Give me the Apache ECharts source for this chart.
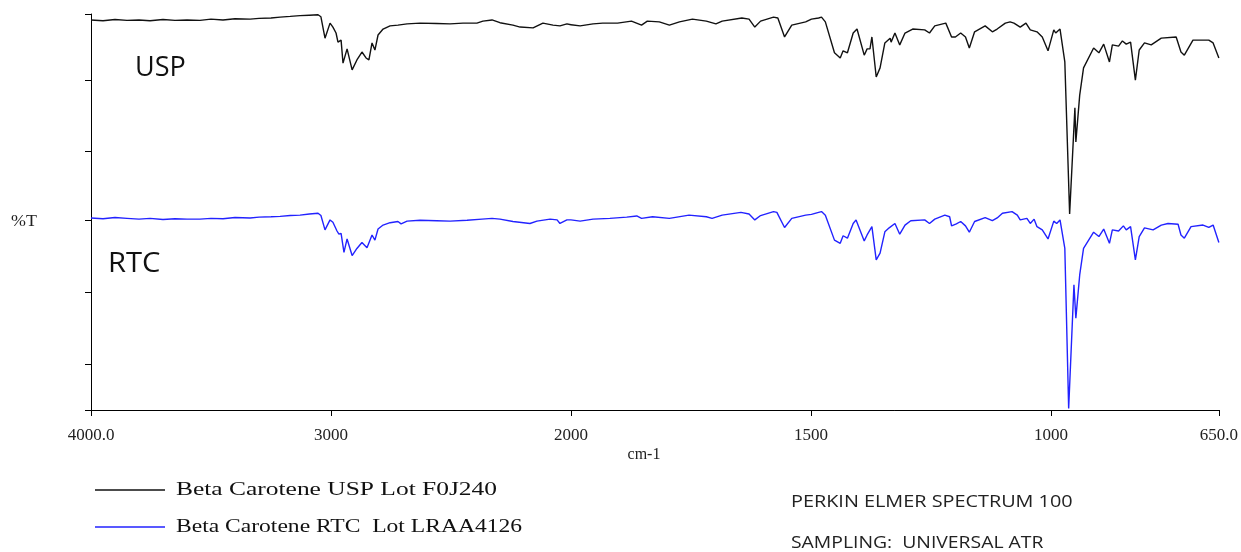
<!DOCTYPE html>
<html>
<head>
<meta charset="utf-8">
<script src="https://cdn.jsdelivr.net/npm/echarts@6/dist/echarts.min.js"></script>
<style>
  html, body { margin: 0; padding: 0; background: #fff; }
  #chart { width: 1241px; height: 552px; }
</style>
</head>
<body>
<div id="chart"></div>
<script>
// wavenumber (cm-1) / %T readings, 4000 -> 650
const uspWave = [4000, 3950, 3900, 3850, 3800, 3754, 3700, 3650, 3600, 3546, 3500, 3450, 3400, 3337, 3300, 3250, 3212, 3170, 3129, 3090,
  3054, 3042, 3025, 3004, 2992, 2979, 2971, 2958, 2950, 2933, 2912, 2892, 2871, 2854, 2842, 2829, 2817, 2804, 2783, 2754,
  2721, 2713, 2683, 2629, 2560, 2504, 2450, 2392, 2367, 2329, 2296, 2242, 2212, 2158, 2117, 2075, 2046, 2017, 2000,
  1981, 1954, 1934, 1903, 1874, 1853, 1841, 1816, 1795, 1774, 1747, 1718, 1698, 1685, 1644, 1629, 1617, 1605, 1578, 1569,
  1555, 1540, 1511, 1499, 1484, 1478, 1470, 1451, 1439, 1433, 1424, 1412, 1404, 1389, 1383, 1377, 1373, 1364, 1356, 1346,
  1335, 1333, 1325, 1315, 1304, 1288, 1263, 1253, 1242, 1219, 1207, 1199, 1188, 1178, 1170, 1159, 1137, 1122, 1112, 1095,
  1085, 1077, 1064, 1052, 1043, 1029, 1018, 1006, 994, 990, 981, 971, 961, 950, 948, 940, 932, 911, 900, 890,
  878, 872, 859, 851, 843, 834, 824, 816, 805, 791, 770, 739, 729, 722, 704, 671, 662, 650]
const uspT = [98.5, 98.3, 98.6, 98.4, 98.5, 98.3, 98.6, 98.4, 98.5, 98.4, 98.7, 98.5, 98.8, 98.7, 98.9, 99.0, 99.2, 99.4, 99.6, 99.7,
  99.8, 99.3, 93.9, 97.7, 96.7, 95.2, 92.9, 93.4, 87.6, 91.2, 85.9, 88.4, 90.4, 88.9, 88.4, 92.7, 90.9, 94.7, 96.2, 97.0,
  97.2, 96.7, 97.5, 97.7, 97.6, 97.5, 97.7, 97.7, 98.2, 98.5, 97.8, 97.2, 96.7, 96.5, 97.7, 97.2, 97.0, 97.5, 97.3,
  97.0, 97.5, 97.7, 97.7, 98.2, 97.2, 98.2, 98.0, 97.2, 98.0, 98.7, 98.2, 97.5, 98.2, 99.0, 98.7, 96.7, 98.2, 99.2, 99.0,
  94.2, 97.2, 98.0, 98.7, 99.0, 99.2, 98.0, 90.2, 88.9, 90.7, 90.2, 95.2, 96.2, 89.6, 91.2, 91.2, 94.2, 84.1, 86.4, 92.7,
  93.9, 92.9, 95.2, 92.2, 95.2, 96.2, 96.0, 95.2, 97.0, 97.7, 94.2, 94.2, 95.2, 94.2, 91.4, 95.5, 97.0, 95.5, 96.2, 97.7,
  98.0, 97.7, 96.7, 97.7, 96.0, 95.5, 94.2, 90.7, 96.0, 95.2, 96.2, 87.9, 49.5, 76.3, 67.7, 79.5, 86.4, 91.4, 90.2, 92.4,
  87.9, 92.2, 91.9, 93.2, 92.4, 92.9, 83.3, 90.9, 92.7, 92.2, 93.9, 94.2, 90.4, 89.6, 93.4, 93.4, 92.7, 88.9]

const rtcWave = [4000, 3950, 3900, 3850, 3800, 3754, 3700, 3650, 3600, 3546, 3500, 3450, 3400, 3337, 3300, 3250, 3212, 3170, 3129, 3090,
  3054, 3042, 3025, 3004, 2992, 2975, 2967, 2958, 2946, 2933, 2912, 2892, 2871, 2850, 2842, 2829, 2817, 2804, 2783, 2754,
  2721, 2708, 2683, 2629, 2560, 2504, 2433, 2371, 2329, 2296, 2242, 2171, 2142, 2087, 2058, 2046, 2017, 2000,
  1981, 1954, 1919, 1884, 1863, 1853, 1830, 1795, 1754, 1718, 1706, 1685, 1646, 1629, 1617, 1605, 1578, 1571,
  1555, 1540, 1511, 1499, 1484, 1478, 1470, 1451, 1439, 1433, 1424, 1412, 1406, 1389, 1383, 1379, 1373, 1364, 1356, 1346,
  1337, 1333, 1325, 1315, 1304, 1292, 1263, 1253, 1242, 1221, 1211, 1207, 1197, 1188, 1178, 1170, 1159, 1137, 1122, 1112,
  1101, 1081, 1070, 1064, 1050, 1043, 1035, 1029, 1018, 1006, 994, 988, 981, 971, 963, 952, 948, 940, 932, 911,
  900, 890, 878, 872, 859, 849, 843, 834, 824, 816, 805, 787, 770, 756, 735, 729, 722, 708, 683, 671, 662, 650]
const rtcT = [48.5, 48.3, 48.6, 48.4, 48.2, 48.4, 48.1, 48.3, 48.2, 48.2, 48.4, 48.3, 48.6, 48.5, 48.7, 48.8, 48.9, 49.1, 49.2, 49.5,
  49.7, 49.1, 45.5, 48.0, 47.4, 45.2, 44.4, 44.6, 39.8, 43.2, 39.0, 40.8, 42.3, 41.0, 40.7, 44.2, 42.9, 45.7, 46.7, 47.3,
  47.6, 47.0, 47.7, 47.9, 47.8, 47.7, 47.9, 48.2, 48.4, 48.2, 47.6, 47.1, 47.7, 48.2, 48.0, 47.1, 48.0, 48.0,
  47.7, 48.2, 48.4, 48.7, 49.0, 48.4, 48.8, 48.4, 49.2, 48.8, 48.4, 49.2, 49.9, 49.5, 48.0, 49.1, 50.1, 49.9,
  46.1, 48.4, 49.2, 49.4, 49.9, 50.1, 49.2, 42.9, 42.1, 44.0, 43.4, 47.1, 48.0, 42.7, 44.2, 43.8, 46.3, 37.9, 39.6, 45.0,
  46.0, 45.5, 47.1, 44.4, 46.7, 47.8, 48.0, 47.1, 48.2, 49.2, 48.8, 46.5, 47.0, 47.6, 46.5, 44.9, 47.6, 48.6, 47.8, 48.5,
  49.7, 50.1, 49.2, 48.0, 48.4, 47.1, 48.2, 46.3, 45.5, 43.2, 47.7, 47.1, 48.0, 40.8, 0.4, 31.6, 23.2, 34.1, 40.8, 44.9,
  43.8, 45.7, 42.1, 45.5, 45.2, 46.5, 45.5, 46.3, 37.9, 43.8, 46.0, 45.5, 46.7, 47.1, 46.9, 44.2, 43.4, 46.3, 46.7, 46.1, 46.7, 42.3]

const highTicks = [4000, 3000, 2000]
const lowTicks = [2000, 1500, 1000, 650]
const yTicks = [0, 11.6, 29.8, 48, 65.4, 83.3, 100]
const names = ['Beta Carotene USP Lot F0J240', 'Beta Carotene RTC  Lot LRAA4126']
const colors = ['#111111', '#2222ff']
const legendStretch = [1.34, 1.24]

// split a trace at 2000 cm-1 because the axis changes scale there
function part(wave, t, lo, hi) {
  const out = []
  for (let i = 0; i < wave.length; i++) {
    if (wave[i] >= lo && wave[i] <= hi) out.push([wave[i], t[i]])
  }
  return out
}

const tickFont = {fontFamily: 'Liberation Serif', fontSize: 17, color: '#222'}
const fmt = v => (v === 4000 || v === 650) ? v.toFixed(1) : String(v)

function xAxisFor(idx, min, max, ticks, labels) {
  return {
    gridIndex: idx, type: 'value', min: min, max: max, inverse: true,
    axisLine: {lineStyle: {color: '#000', width: 1}},
    axisTick: {customValues: ticks, length: 6, lineStyle: {color: '#000'}},
    axisLabel: Object.assign({customValues: labels, formatter: fmt, margin: 17}, tickFont),
    splitLine: {show: false}
  }
}

const series = []
const data = [[uspWave, uspT], [rtcWave, rtcT]]
data.forEach((d, k) => {
  [[0, 2000, 4000], [1, 650, 2000]].forEach(([g, lo, hi]) => {
    series.push({
      name: names[k], type: 'line', xAxisIndex: g, yAxisIndex: g,
      data: part(d[0], d[1], lo, hi),
      symbol: 'none', color: colors[k],
      lineStyle: {width: 1.4, color: colors[k]}
    })
  })
})

// legend drawn by hand: the source text is stretched sideways
const legendItems = names.map((n, k) => ({
  type: 'group', x: 95, y: 490 + k * 37,
  children: [
    {type: 'line', shape: {x1: 0, y1: 0, x2: 70, y2: 0}, style: {stroke: colors[k], lineWidth: 1.5}},
    {type: 'text', x: 81, y: 0, scaleX: legendStretch[k],
      style: {text: n, font: '19px "Liberation Serif"', fill: '#111', verticalAlign: 'middle'}}
  ]
}))

const chart = echarts.init(document.getElementById('chart'))
chart.setOption({
  animation: false,
  backgroundColor: '#fff',
  grid: [
    {left: 91, top: 14, width: 480, height: 396},
    {left: 571, top: 14, width: 652, height: 396}
  ],
  xAxis: [
    xAxisFor(0, 2000, 4000, highTicks, [4000, 3000]),
    xAxisFor(1, 650, 2000, lowTicks, lowTicks)
  ],
  yAxis: [
    {gridIndex: 0, type: 'value', min: 0, max: 100,
      axisLine: {show: true, lineStyle: {color: '#000'}},
      axisTick: {show: true, customValues: yTicks, length: 6, lineStyle: {color: '#000'}},
      axisLabel: {show: false}, splitLine: {show: false}},
    {gridIndex: 1, type: 'value', min: 0, max: 100, show: false}
  ],
  graphic: legendItems.concat([
    {type: 'text', x: 135, y: 68, style: {text: 'USP', font: '27px "Open Sans"', fill: '#111', verticalAlign: 'middle'}},
    {type: 'text', x: 108, y: 264, scaleX: 1.08, style: {text: 'RTC', font: '27px "Open Sans"', fill: '#111', verticalAlign: 'middle'}},
    {type: 'text', x: 11, y: 222, scaleX: 1.12, style: {text: '%T', font: '16px "Liberation Serif"', fill: '#222', verticalAlign: 'middle'}},
    {type: 'text', x: 644, y: 455, style: {text: 'cm-1', font: '16px "Liberation Serif"', fill: '#222', align: 'center', verticalAlign: 'middle'}},
    {type: 'text', x: 791, y: 502, scaleX: 1.24, style: {text: 'PERKIN ELMER SPECTRUM 100', font: '16px "Open Sans"', fill: '#222', verticalAlign: 'middle'}},
    {type: 'text', x: 791, y: 543, scaleX: 1.21, style: {text: 'SAMPLING:  UNIVERSAL ATR', font: '16px "Open Sans"', fill: '#222', verticalAlign: 'middle'}}
  ]),
  series: series
})
</script>
</body>
</html>
